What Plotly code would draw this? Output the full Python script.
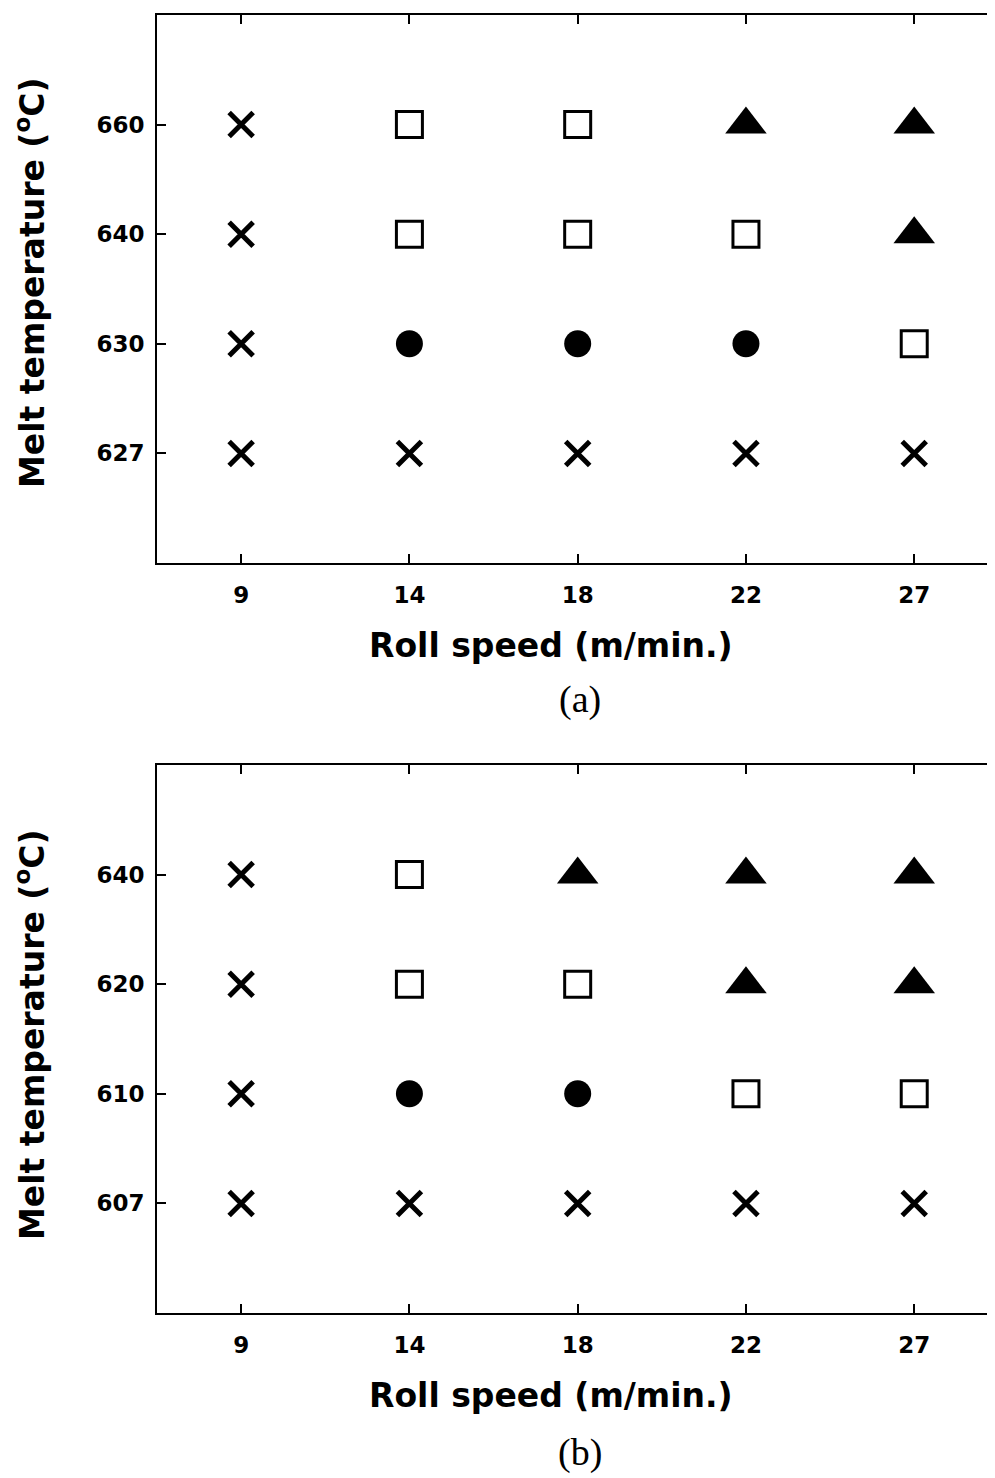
import plotly.graph_objects as go

speeds = ["9", "14", "18", "22", "27"]

temps_a = ["627", "630", "640", "660"]
grid_a = {
    "660": ["x", "square", "square", "triangle", "triangle"],
    "640": ["x", "square", "square", "square", "triangle"],
    "630": ["x", "circle", "circle", "circle", "square"],
    "627": ["x", "x", "x", "x", "x"],
}

temps_b = ["607", "610", "620", "640"]
grid_b = {
    "640": ["x", "square", "triangle", "triangle", "triangle"],
    "620": ["x", "square", "square", "triangle", "triangle"],
    "610": ["x", "circle", "circle", "square", "square"],
    "607": ["x", "x", "x", "x", "x"],
}

STYLE = {
    "x": dict(symbol="x-thin", size=24, line=dict(width=5, color="black"), color="black"),
    "square": dict(symbol="square-open", size=26, line=dict(width=3, color="black"), color="black"),
    "circle": dict(symbol="circle", size=27, line=dict(width=0, color="black"), color="black"),
    "triangle": dict(symbol="triangle-up", size=36, line=dict(width=0, color="black"), color="black"),
}

fig = go.Figure()

def add_panel(grid, xa, ya):
    for kind in ["x", "square", "circle", "triangle"]:
        xs, ys = [], []
        for t, row in grid.items():
            for s, k in zip(speeds, row):
                if k == kind:
                    xs.append(s)
                    ys.append(t)
        fig.add_trace(go.Scatter(x=xs, y=ys, mode="markers", marker=STYLE[kind],
                                 xaxis=xa, yaxis=ya, showlegend=False, hoverinfo="skip"))

add_panel(grid_a, "x", "y")
add_panel(grid_b, "x2", "y2")

OFF = 8  # page body margin
W, H = 995 - OFF, 1478 - OFF

def px(xr):
    return (xr - OFF) / W

def py(yr):
    return 1 - (yr - OFF) / H

tickfont = dict(family="DejaVu Sans", size=23, color="black", weight="bold")

xcommon = dict(type="category", categoryorder="array", categoryarray=speeds,
               range=[-0.5, 4.48], showline=True, linecolor="black", linewidth=1.8,
               mirror="ticks", ticks="inside", ticklen=9, tickwidth=1.5, tickcolor="black",
               showgrid=False, zeroline=False, tickfont=tickfont, ticklabelstandoff=10)
ycommon = dict(type="category", categoryorder="array",
               range=[-1, 4], showline=True, linecolor="black", linewidth=1.8,
               ticks="inside", ticklen=9, tickwidth=1.5, tickcolor="black",
               showgrid=False, zeroline=False, tickfont=tickfont, ticklabelstandoff=6)

fig.update_layout(
    width=W, height=H,
    margin=dict(l=0, r=0, t=0, b=0),
    paper_bgcolor="white", plot_bgcolor="white",
    xaxis=dict(domain=[px(157), 1], anchor="y", **xcommon),
    yaxis=dict(domain=[py(563), py(15)], anchor="x", categoryarray=temps_a, **ycommon),
    xaxis2=dict(domain=[px(157), 1], anchor="y2", **xcommon),
    yaxis2=dict(domain=[py(1313), py(765)], anchor="x2", categoryarray=temps_b, **ycommon),
)

titlefont = dict(family="DejaVu Sans", size=33, color="black", weight="bold")
serif = dict(family="Liberation Serif", size=38, color="black")

annots = [
    dict(text="Roll speed (m/min.)", x=px(551), y=py(645), font=titlefont),
    dict(text="Roll speed (m/min.)", x=px(551), y=py(1395), font=titlefont),
    dict(text="Melt temperature (<sup>o</sup>C)", x=px(30), y=py(283), font=titlefont, textangle=-90),
    dict(text="Melt temperature (<sup>o</sup>C)", x=px(30), y=py(1035), font=titlefont, textangle=-90),
    dict(text="(a)", x=px(580), y=py(700), font=serif),
    dict(text="(b)", x=px(580), y=py(1452), font=serif),
]
for a in annots:
    fig.add_annotation(xref="paper", yref="paper", xanchor="center", yanchor="middle",
                       showarrow=False, **a)

fig.write_html("out.html")
